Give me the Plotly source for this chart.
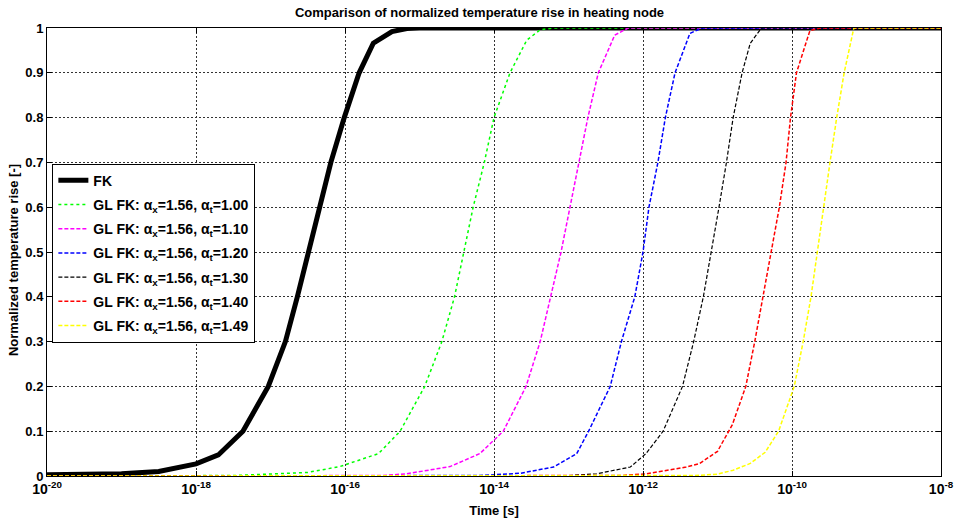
import plotly.graph_objects as go

# log10(time) samples and normalized temperature rise
fk_logt = [-20, -19.5, -19.0, -18.5, -18.0, -17.7, -17.37, -17.03, -16.80, -16.64, -16.49,
           -16.34, -16.19, -16.01, -15.81, -15.62, -15.37, -15.17, -15.0, -8]
fk_val = [0.003, 0.004, 0.005, 0.01, 0.027, 0.047, 0.1, 0.2, 0.3, 0.4, 0.5,
          0.6, 0.7, 0.8, 0.9, 0.966, 0.992, 0.999, 1.0, 1.0]

g100_logt = [-20, -17.5, -16.5, -16.07, -15.55, -15.26, -14.93, -14.70, -14.53, -14.40,
             -14.28, -14.13, -14.0, -13.785, -13.56, -13.38, -13.2, -8]
g100_val = [0, 0.001, 0.008, 0.021, 0.05, 0.1, 0.2, 0.3, 0.4, 0.5,
            0.6, 0.7, 0.8, 0.9, 0.973, 0.996, 1.0, 1.0]

g110_logt = [-20, -15.5, -15.17, -14.59, -14.19, -13.875, -13.57, -13.38, -13.24, -13.10,
             -12.98, -12.86, -12.74, -12.60, -12.38, -12.20, -8]
g110_val = [0, 0.001, 0.005, 0.021, 0.05, 0.1, 0.2, 0.3, 0.4, 0.5,
            0.6, 0.7, 0.8, 0.9, 0.984, 1.0, 1.0]

g120_logt = [-20, -14.2, -13.65, -13.20, -12.89, -12.73, -12.44, -12.29, -12.11, -12.00,
             -11.92, -11.80, -11.70, -11.57, -11.37, -11.21, -8]
g120_val = [0, 0.001, 0.006, 0.02, 0.05, 0.1, 0.2, 0.3, 0.4, 0.5,
            0.6, 0.7, 0.8, 0.9, 0.988, 1.0, 1.0]

g130_logt = [-20, -13.0, -12.62, -12.17, -11.96, -11.73, -11.47, -11.32, -11.19, -11.08,
             -10.98, -10.88, -10.79, -10.67, -10.56, -10.41, -8]
g130_val = [0, 0.001, 0.005, 0.02, 0.05, 0.1, 0.2, 0.3, 0.4, 0.5,
            0.6, 0.7, 0.8, 0.9, 0.966, 1.0, 1.0]

g140_logt = [-20, -12.3, -11.95, -11.42, -11.24, -11.0, -10.8, -10.62, -10.50, -10.385,
             -10.28, -10.17, -10.08, -10.02, -9.94, -9.76, -9.62, -8]
g140_val = [0, 0.001, 0.005, 0.02, 0.028, 0.055, 0.115, 0.2, 0.3, 0.4,
            0.5, 0.6, 0.7, 0.8, 0.9, 0.994, 1.0, 1.0]

g149_logt = [-20, -11.3, -11.0, -10.79, -10.56, -10.36, -10.18, -9.97, -9.85, -9.745,
             -9.66, -9.57, -9.49, -9.40, -9.30, -9.17, -8]
g149_val = [0, 0.001, 0.004, 0.013, 0.028, 0.053, 0.1, 0.2, 0.3, 0.4,
            0.5, 0.6, 0.7, 0.8, 0.9, 1.0, 1.0]

x_tick_exps = [-20, -18, -16, -14, -12, -10, -8]
y_ticks = [0, 0.1, 0.2, 0.3, 0.4, 0.5, 0.6, 0.7, 0.8, 0.9, 1]

series = [
    ("FK", fk_logt, fk_val, "#000000", "solid", 5),
    ("GL FK: α<sub>x</sub>=1.56, α<sub>t</sub>=1.00", g100_logt, g100_val, "#00ff00", "dot", 1.5),
    ("GL FK: α<sub>x</sub>=1.56, α<sub>t</sub>=1.10", g110_logt, g110_val, "#ff00ff", "dash", 1.5),
    ("GL FK: α<sub>x</sub>=1.56, α<sub>t</sub>=1.20", g120_logt, g120_val, "#0000ff", "dash", 1.5),
    ("GL FK: α<sub>x</sub>=1.56, α<sub>t</sub>=1.30", g130_logt, g130_val, "#000000", "dash", 1.2),
    ("GL FK: α<sub>x</sub>=1.56, α<sub>t</sub>=1.40", g140_logt, g140_val, "#ff0000", "dash", 1.5),
    ("GL FK: α<sub>x</sub>=1.56, α<sub>t</sub>=1.49", g149_logt, g149_val, "#ffff00", "dash", 1.5),
]

fig = go.Figure()
for i, (name, lx, yv, col, dash, w) in enumerate(series):
    fig.add_trace(go.Scatter(
        x=[10 ** e for e in lx], y=yv, mode="lines", name=name, legendgroup=f"g{i}",
        line=dict(color=col, dash=dash if dash != "dash" else "4px,2px", width=w),
    ))

font_family = "Liberation Sans, Arial, sans-serif"
axis_common = dict(
    showline=True, linecolor="#000000", linewidth=1, mirror="ticks",
    ticks="inside", ticklen=5, tickcolor="#000000",
    showgrid=True, gridcolor="#333333", gridwidth=1, griddash="2px,2px",
    zeroline=False, automargin=False,
)
label_font = dict(family=font_family, size=13, color="#000000", weight="bold")

fig.update_layout(
    width=959, height=520,
    margin=dict(l=47, r=18, t=28, b=44),
    paper_bgcolor="#ffffff", plot_bgcolor="#ffffff",
    title=dict(text="Comparison of normalized temperature rise in heating node",
               x=0.5, xanchor="center", y=0.977, yanchor="middle", font=label_font),
    xaxis=dict(type="log", range=[-20, -8],
               tickvals=[10 ** e for e in x_tick_exps],
               ticktext=[f"10<sup>{e}</sup>" for e in x_tick_exps],
               tickfont=dict(family=font_family, size=14, color="#000000", weight="bold"),
               title=dict(text="Time [s]", standoff=10, font=label_font),
               **axis_common),
    yaxis=dict(range=[0, 1], tickvals=y_ticks,
               ticktext=[f"{v:g}" for v in y_ticks],
               tickfont=label_font,
               **axis_common),
    legend=dict(x=0.006, y=0.697, xanchor="left", yanchor="top",
                bgcolor="#ffffff", bordercolor="#000000", borderwidth=1,
                font=dict(family=font_family, size=14, color="#000000", weight="bold"),
                tracegroupgap=3, itemwidth=30),
    showlegend=True,
    annotations=[dict(text="Normalized temperature rise [-]", textangle=-90,
                      xref="paper", yref="paper", x=0, y=0.482,
                      xanchor="center", yanchor="middle", xshift=-34,
                      showarrow=False, font=label_font)],
)

fig.write_html("out.html")
